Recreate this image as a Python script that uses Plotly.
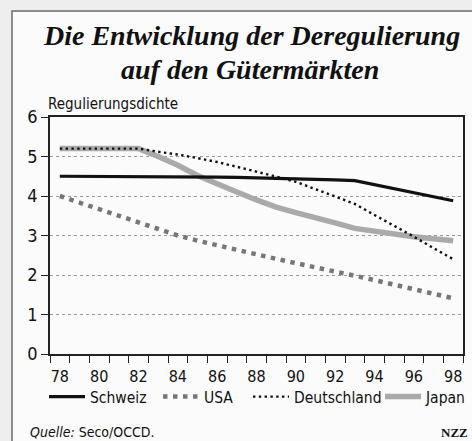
import plotly.graph_objects as go

# ---- data ----
years = list(range(78, 99))
schweiz = [4.5, 4.5, 4.5, 4.5, 4.5, 4.5, 4.5, 4.49, 4.48, 4.47, 4.46, 4.45, 4.44, 4.42, 4.41, 4.39,
           4.29, 4.19, 4.09, 3.98, 3.88]
usa = [4.0, 3.83, 3.67, 3.5, 3.33, 3.17, 3.0, 2.87, 2.75, 2.63, 2.52, 2.41, 2.3, 2.2, 2.09, 1.98,
       1.87, 1.76, 1.64, 1.52, 1.41]
deutschland = [5.2, 5.2, 5.2, 5.2, 5.2, 5.12, 5.05, 4.96, 4.86, 4.74, 4.62, 4.49, 4.36, 4.17, 3.97, 3.8,
               3.52, 3.25, 2.97, 2.68, 2.4]
japan = [5.2, 5.2, 5.2, 5.2, 5.2, 5.0, 4.78, 4.52, 4.3, 4.1, 3.9, 3.72, 3.58, 3.46, 3.32, 3.18,
         3.1, 3.03, 2.97, 2.92, 2.87]
xtick_years = list(range(78, 99, 2))
xtick_labels = [str(y) for y in xtick_years]
ytick_vals = [0, 1, 2, 3, 4, 5, 6]

title1 = "Die Entwicklung der Deregulierung"
title2 = "auf den Gütermärkten"
ytitle = "Regulierungsdichte"
source = "<i>Quelle:</i> Seco/OCCD."
brand = "<b>NZZ</b>"

SANS = "DejaVu Sans Condensed, Liberation Sans Narrow, sans-serif"
SERIF = "Liberation Serif, DejaVu Serif, serif"

W, H = 472, 441
L, R, T, B = 50, 9, 117, 87
PW, PH = W - L - R, H - T - B


def px(x):
    return (x - L) / PW


def py(y):
    return (H - B - y) / PH


fig = go.Figure()
series = [
    ("Schweiz", schweiz, dict(color="#111111", width=3.2), "legend"),
    ("USA", usa, dict(color="#777777", width=4.5, dash="4.5px,5.5px"), "legend2"),
    ("Deutschland", deutschland, dict(color="#111111", width=2.4, dash="2.4px,3.4px"), "legend3"),
    ("Japan", japan, dict(color="#aaaaaa", width=5.5), "legend4"),
]
for name, vals, line, lg in [series[3], series[0], series[1], series[2]]:
    fig.add_trace(go.Scatter(x=years, y=vals, mode="lines", name=name, line=line,
                             legend=lg, showlegend=True))

leg_common = dict(orientation="h", xanchor="left", yanchor="middle", bgcolor="rgba(0,0,0,0)",
                  font=dict(family=SANS, size=15.5, color="#111111"), itemwidth=36)
fig.update_layout(
    legend=dict(x=px(44), y=py(397), **leg_common),
    legend2=dict(x=px(158), y=py(397), **leg_common),
    legend3=dict(x=px(248), y=py(397), **leg_common),
    legend4=dict(x=px(380), y=py(397), **leg_common),
)

fig.update_xaxes(
    range=[77.5, 98.5], tickmode="array", tickvals=xtick_years, ticktext=xtick_labels,
    ticks="outside", ticklen=7, tickcolor="rgba(0,0,0,0)",
    minor=dict(tickmode="array", tickvals=[y - 0.5 for y in years] + [years[-1] + 0.5],
               ticks="outside", ticklen=7, tickcolor="#222222", tickwidth=1.3, showgrid=False),
    showline=True, linecolor="#222222", linewidth=1.5, mirror=True,
    showgrid=False, zeroline=False,
    tickfont=dict(family=SANS, size=16, color="#111111"),
)
fig.update_yaxes(
    range=[0, 6], tickmode="array", tickvals=ytick_vals,
    ticks="outside", ticklen=7, tickcolor="#222222", tickwidth=1.3,
    showline=True, linecolor="#222222", linewidth=1.5, mirror=True,
    showgrid=True, gridcolor="#999999", griddash="dot", gridwidth=1,
    zeroline=False,
    tickfont=dict(family=SANS, size=18, color="#111111"),
)

fig.add_shape(type="rect", xref="paper", yref="paper", x0=px(12), x1=px(485), y0=py(11), y1=py(450),
              fillcolor="#fbfbfb", line=dict(color="#6a6a6a", width=1.5), layer="below")

anns = [
    dict(text="<b><i>%s</i></b>" % title1, x=px(251), y=py(36), font=dict(family=SERIF, size=28, color="#111111")),
    dict(text="<b><i>%s</i></b>" % title2, x=px(250), y=py(69), font=dict(family=SERIF, size=28, color="#111111")),
]
for a in anns:
    fig.add_annotation(xref="paper", yref="paper", xanchor="center", yanchor="middle", showarrow=False, **a)
fig.add_annotation(text=ytitle, xref="paper", yref="paper", x=px(46), y=py(104), xanchor="left",
                   yanchor="middle", showarrow=False, font=dict(family=SANS, size=15, color="#111111"))
fig.add_annotation(text=source, xref="paper", yref="paper", x=px(28), y=py(432), xanchor="left",
                   yanchor="middle", showarrow=False, font=dict(family=SANS, size=14, color="#111111"))
fig.add_annotation(text=brand, xref="paper", yref="paper", x=px(470), y=py(432), xanchor="right",
                   yanchor="middle", showarrow=False, font=dict(family=SERIF, size=13, color="#111111"))

fig.update_layout(
    width=W, height=H, margin=dict(l=L, r=R, t=T, b=B, autoexpand=False),
    paper_bgcolor="#eeeeee", plot_bgcolor="#ffffff",
)

fig.write_html("out.html", config={"displayModeBar": False},
               post_script="document.body.style.margin='0px';document.body.style.overflow='hidden';")
